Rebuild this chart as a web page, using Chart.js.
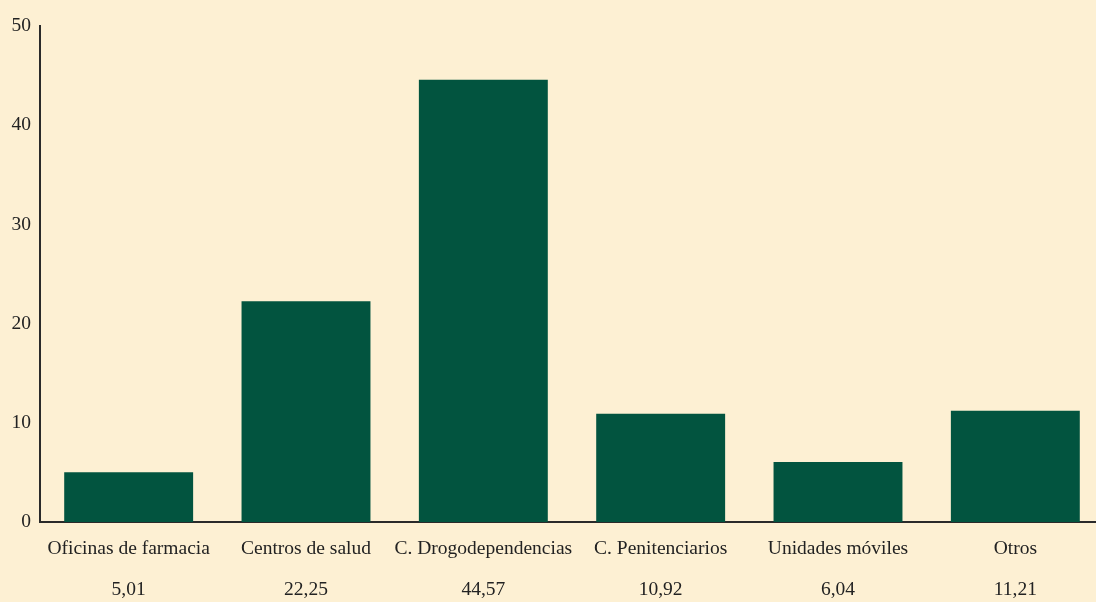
<!DOCTYPE html>
<html>
<head>
<meta charset="utf-8">
<script src="https://cdn.jsdelivr.net/npm/chart.js@4/dist/chart.umd.min.js"></script>
<style>
  html, body { margin: 0; padding: 0; background: #fdf0d3; }
  #wrap { width: 1096px; height: 602px; overflow: hidden; }
</style>
</head>
<body>
<div id="wrap"><canvas id="myChart" width="1104" height="602"></canvas></div>
<script>
// datos del grafico
const categories = ['Oficinas de farmacia', 'Centros de salud', 'C. Drogodependencias', 'C. Penitenciarios', 'Unidades móviles', 'Otros'];
const values = [5.01, 22.25, 44.57, 10.92, 6.04, 11.21];
const valueLabels = ['5,01', '22,25', '44,57', '10,92', '6,04', '11,21'];
const yTicks = [0, 10, 20, 30, 40, 50];

const serif = '"Liberation Serif", "Times New Roman", serif';
const ctx = document.getElementById('myChart');

new Chart(ctx, {
  type: 'bar',
  data: {
    labels: categories.map((c, i) => [c, valueLabels[i]]),
    datasets: [{
      data: values,
      backgroundColor: '#02543f',
      borderWidth: 0,
      barPercentage: 0.727,
      categoryPercentage: 1
    }]
  },
  options: {
    responsive: false,
    animation: false,
    layout: { padding: { top: 26, left: 0, right: 0, bottom: 0 } },
    plugins: {
      legend: { display: false },
      tooltip: { enabled: false }
    },
    scales: {
      x: {
        grid: { display: false, drawTicks: false },
        border: { display: true, color: '#2a2a2a', width: 2 },
        ticks: {
          color: '#222',
          font: { family: serif, size: 19.5, lineHeight: 2.1 },
          padding: 6,
          maxRotation: 0,
          autoSkip: false
        },
        afterFit: (scale) => { scale.height = 80; }
      },
      y: {
        min: 0,
        max: 50,
        afterBuildTicks: (scale) => { scale.ticks = yTicks.map(v => ({ value: v })); },
        grid: { display: false, drawTicks: false },
        border: { display: true, color: '#2a2a2a', width: 2 },
        ticks: {
          color: '#222',
          font: { family: serif, size: 19.5 },
          padding: 9
        },
        afterFit: (scale) => { scale.width = 40; }
      }
    }
  }
});
</script>
</body>
</html>
